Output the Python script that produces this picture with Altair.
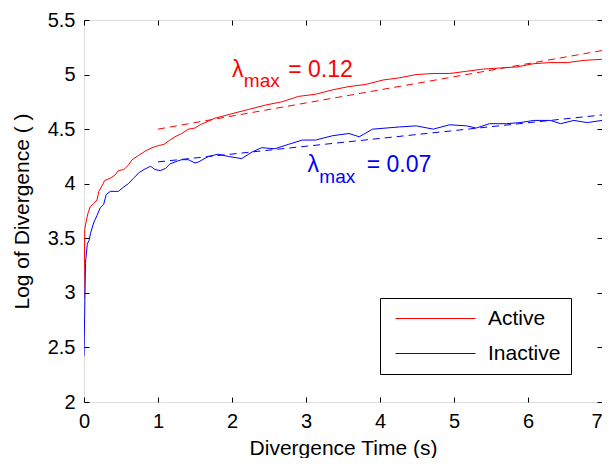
import altair as alt
import pandas as pd

FONT = "Liberation Sans"

# ---- data ----
active_t = [0, 0.01, 0.025, 0.054, 0.085, 0.13, 0.176, 0.2, 0.243, 0.28, 0.355, 0.42, 0.465,
            0.536, 0.6, 0.65, 0.74, 0.83, 0.92, 1.01, 1.08, 1.14, 1.23, 1.32, 1.41, 1.5, 1.57,
            1.77, 1.99, 2.22, 2.45, 2.67, 2.90, 3.13, 3.36, 3.58, 3.81, 4.04, 4.26, 4.49, 4.72,
            4.94, 5.17, 5.39, 5.62, 5.85, 6.08, 6.30, 6.53, 6.76, 7.0]
active_y = [2.95, 3.58, 3.64, 3.73, 3.79, 3.82, 3.85, 3.93, 3.98, 4.03, 4.05, 4.08, 4.12,
            4.13, 4.17, 4.22, 4.26, 4.30, 4.33, 4.35, 4.36, 4.39, 4.43, 4.46, 4.50, 4.51, 4.54,
            4.60, 4.64, 4.68, 4.72, 4.75, 4.80, 4.82, 4.86, 4.89, 4.91, 4.95, 4.97, 5.00, 5.01,
            5.01, 5.03, 5.05, 5.06, 5.07, 5.10, 5.11, 5.11, 5.13, 5.14]

inactive_t = [0, 0.02, 0.045, 0.068, 0.09, 0.13, 0.176, 0.22, 0.266, 0.3, 0.355, 0.465, 0.536,
              0.6, 0.67, 0.74, 0.81, 0.9, 0.96, 1.03, 1.1, 1.16, 1.23, 1.32, 1.41, 1.5, 1.55,
              1.68, 1.81, 1.95, 2.13, 2.27, 2.4, 2.58, 2.76, 2.95, 3.13, 3.36, 3.58, 3.72, 3.9,
              4.08, 4.26, 4.49, 4.72, 4.94, 5.17, 5.3, 5.48, 5.71, 5.89, 6.08, 6.30, 6.44, 6.62,
              6.8, 7.0]
inactive_y = [2.42, 3.27, 3.45, 3.48, 3.55, 3.64, 3.71, 3.78, 3.81, 3.90, 3.93, 3.93, 3.97,
              4.00, 4.05, 4.10, 4.13, 4.16, 4.13, 4.12, 4.14, 4.18, 4.20, 4.22, 4.22, 4.19, 4.20,
              4.25, 4.27, 4.25, 4.23, 4.29, 4.33, 4.32, 4.36, 4.40, 4.40, 4.44, 4.46, 4.43, 4.50,
              4.51, 4.52, 4.53, 4.50, 4.54, 4.53, 4.51, 4.55, 4.55, 4.56, 4.58, 4.58, 4.55, 4.58,
              4.56, 4.58]

fit_t = [1, 7]
active_fit = [4.50, 5.22]
inactive_fit = [4.20, 4.63]

series_names = ["Active", "Inactive"]
series_colors = ["#ff0000", "#0000ff"]

x_ticks = [0, 1, 2, 3, 4, 5, 6, 7]
y_ticks = [2, 2.5, 3, 3.5, 4, 4.5, 5, 5.5]

# annotation texts (position in data units)
ann_main = ["λ", "= 0.12", "λ", "= 0.07"]
ann_main_t = [2.0, 2.76, 3.02, 3.82]
ann_main_y = [4.98, 4.98, 4.11, 4.11]
ann_main_series = ["Active", "Active", "Inactive", "Inactive"]
ann_sub = ["max", "max"]
ann_sub_t = [2.16, 3.18]
ann_sub_y = [4.885, 4.01]
ann_sub_series = ["Active", "Inactive"]

# ---- tables ----
solid = pd.DataFrame({
    "t": active_t + inactive_t,
    "y": active_y + inactive_y,
    "series": ["Active"] * len(active_t) + ["Inactive"] * len(inactive_t),
})
fits = pd.DataFrame({
    "t": fit_t + fit_t,
    "y": active_fit + inactive_fit,
    "series": ["Active"] * 2 + ["Inactive"] * 2,
})
ann1 = pd.DataFrame({"t": ann_main_t, "y": ann_main_y, "txt": ann_main, "series": ann_main_series})
ann2 = pd.DataFrame({"t": ann_sub_t, "y": ann_sub_y, "txt": ann_sub, "series": ann_sub_series})

xs = alt.Scale(domain=[0, 7], nice=False, zero=False)
ys = alt.Scale(domain=[2, 5.5], nice=False, zero=False)
cs = alt.Scale(domain=series_names, range=series_colors)

common_axis = dict(grid=False, domain=False, tickSize=5, tickColor="black", tickWidth=1,
                   offset=-5, labelFont=FONT, labelFontSize=20, labelColor="black",
                   labelFlush=False, labelOverlap=False,
                   titleFont=FONT, titleFontSize=21, titleFontWeight="normal",
                   titleColor="black")

x_bottom = alt.Axis(values=x_ticks, orient="bottom", title="Divergence Time (s)",
                    labelPadding=9, titlePadding=6,
                    labelAlign=alt.ExprRef(expr="datum.value == 7 ? 'right' : 'center'"),
                    **common_axis)
y_left = alt.Axis(values=y_ticks, orient="left", title="Log of Divergence ( )", format="~g",
                  labelPadding=9, titlePadding=15, **common_axis)
x_top = alt.Axis(values=x_ticks, orient="top", title=None, labels=False, grid=False,
                 domain=False, tickSize=5, tickColor="black", offset=-5)
y_right = alt.Axis(values=y_ticks, orient="right", title=None, labels=False, grid=False,
                   domain=False, tickSize=5, tickColor="black", offset=-5)

legend = alt.Legend(title=None, orient="none", legendX=296, legendY=278, direction="vertical",
                    symbolType="M-8,0H8", symbolSize=100, symbolStrokeWidth=1,
                    symbolOffset=35, symbolFillColor="transparent",
                    strokeColor="black", fillColor="white", padding=10, labelOffset=42,
                    labelFont=FONT, labelFontSize=21, labelColor="black", rowPadding=13,
                    cornerRadius=0)

solid_layer = alt.Chart(solid).mark_line(strokeWidth=1, clip=True, interpolate="linear").encode(
    x=alt.X("t:Q", scale=xs, axis=x_bottom),
    y=alt.Y("y:Q", scale=ys, axis=y_left),
    color=alt.Color("series:N", scale=cs, legend=legend),
    detail="series:N",
)

fit_layer = alt.Chart(fits).mark_line(strokeWidth=1, strokeDash=[7, 5], clip=True).encode(
    x=alt.X("t:Q", scale=xs, axis=x_top),
    y=alt.Y("y:Q", scale=ys, axis=y_right),
    color=alt.Color("series:N", scale=cs, legend=None),
    detail="series:N",
)

ann_layer = alt.Chart(ann1).mark_text(font=FONT, fontSize=23, align="left",
                                      baseline="alphabetic").encode(
    x=alt.X("t:Q", scale=xs, axis=None),
    y=alt.Y("y:Q", scale=ys, axis=None),
    text="txt:N",
    color=alt.Color("series:N", scale=cs, legend=None),
)
sub_layer = alt.Chart(ann2).mark_text(font=FONT, fontSize=19, align="left",
                                      baseline="alphabetic").encode(
    x=alt.X("t:Q", scale=xs, axis=None),
    y=alt.Y("y:Q", scale=ys, axis=None),
    text="txt:N",
    color=alt.Color("series:N", scale=cs, legend=None),
)

chart = alt.layer(solid_layer, fit_layer, ann_layer, sub_layer).resolve_axis(
    x="independent", y="independent"
).properties(
    width=518, height=382,
    autosize=alt.AutoSizeParams(type="none"),
    padding={"left": 76, "top": 12, "right": 0, "bottom": 56},
).configure_view(stroke="black", strokeWidth=1).configure(background="white")

chart.save("out.html", embed_options={"renderer": "svg", "actions": False})
